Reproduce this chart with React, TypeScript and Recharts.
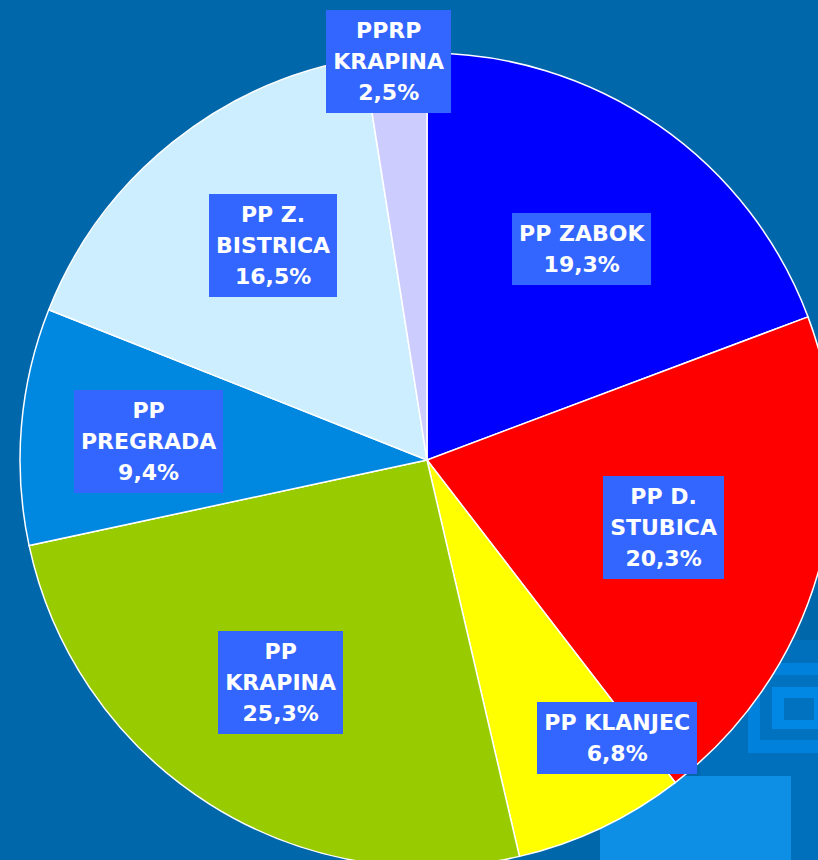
import React from 'react';
import { PieChart, Pie, Cell } from 'recharts';

const names = ['PP ZABOK', 'PP D. STUBICA', 'PP KLANJEC', 'PP KRAPINA', 'PP PREGRADA', 'PP Z. BISTRICA', 'PPRP KRAPINA'];
const shares = [19.3, 20.3, 6.8, 25.3, 9.4, 16.5, 2.5];
const labelLines = [
  ['PP ZABOK'],
  ['PP D.', 'STUBICA'],
  ['PP KLANJEC'],
  ['PP', 'KRAPINA'],
  ['PP', 'PREGRADA'],
  ['PP Z.', 'BISTRICA'],
  ['PPRP', 'KRAPINA'],
];
const colors = ['#0000ff', '#ff0000', '#ffff00', '#99cc00', '#0088e0', '#cceeff', '#ccccff'];

const data = names.map((name, i) => ({ name, value: shares[i] }));

// label placement tweaks (radius in px, angle shift in degrees)
const labelPos: Record<number, { r: number; da: number }> = {
  0: { r: 262, da: -1.5 },
  1: { r: 246, da: 0 },
  2: { r: 337, da: 9 },
  3: { r: 266, da: -1 },
  4: { r: 279, da: 1 },
  5: { r: 264, da: -3 },
  6: { r: 400, da: 1 },
};

const RAD = Math.PI / 180;

const renderLabel = (props: any) => {
  const { cx, cy, midAngle, index } = props;
  const pos = labelPos[index] || { r: 262, da: 0 };
  const a = midAngle + pos.da;
  const x = cx + pos.r * Math.cos(-a * RAD);
  const y = cy + pos.r * Math.sin(-a * RAD);
  const lines = labelLines[index];
  return (
    <foreignObject x={x - 150} y={y - 80} width={300} height={160} key={`lbl-${index}`}>
      <div
        style={{
          width: 300,
          height: 160,
          display: 'flex',
          alignItems: 'center',
          justifyContent: 'center',
        }}
      >
        <div
          style={{
            background: '#3366ff',
            color: '#ffffff',
            fontFamily: '"DejaVu Sans", sans-serif',
            fontWeight: 'bold',
            fontSize: 22,
            lineHeight: '31px',
            textAlign: 'center',
            padding: '5px 7px',
          }}
        >
          {lines.map((l) => (
            <div key={l}>{l}</div>
          ))}
          <div>{shares[index].toFixed(1).replace('.', ',')}%</div>
        </div>
      </div>
    </foreignObject>
  );
};

export default function App() {
  return (
    <div style={{ position: 'absolute', left: 0, top: 0, width: 818, height: 860, background: '#0067ab', overflow: 'hidden' }}>
      {/* slide background decoration */}
      <div style={{ position: 'absolute', left: 700, top: 640, width: 118, height: 220, background: '#0070bd' }} />
      <div style={{ position: 'absolute', left: 748, top: 663, width: 90, height: 90, background: '#0082dc' }} />
      <div style={{ position: 'absolute', left: 760, top: 675, width: 70, height: 65, background: '#0072c0' }} />
      <div style={{ position: 'absolute', left: 772, top: 687, width: 50, height: 42, background: '#0088e4' }} />
      <div style={{ position: 'absolute', left: 784, top: 698, width: 30, height: 22, background: '#0072c0' }} />
      <div style={{ position: 'absolute', left: 600, top: 776, width: 191, height: 84, background: '#0c8fe4' }} />
      <div style={{ position: 'absolute', left: 0, top: 0 }}>
        <PieChart width={818} height={860} margin={{ top: 0, right: 0, bottom: 0, left: 0 }}>
          <Pie
            data={data}
            dataKey="value"
            nameKey="name"
            cx={427}
            cy={460}
            outerRadius={407}
            startAngle={90}
            endAngle={-270}
            stroke="#ffffff"
            strokeWidth={1.5}
            label={renderLabel}
            labelLine={false}
            isAnimationActive={false}
          >
            {data.map((d, i) => (
              <Cell key={d.name} fill={colors[i]} />
            ))}
          </Pie>
        </PieChart>
      </div>
    </div>
  );
}
